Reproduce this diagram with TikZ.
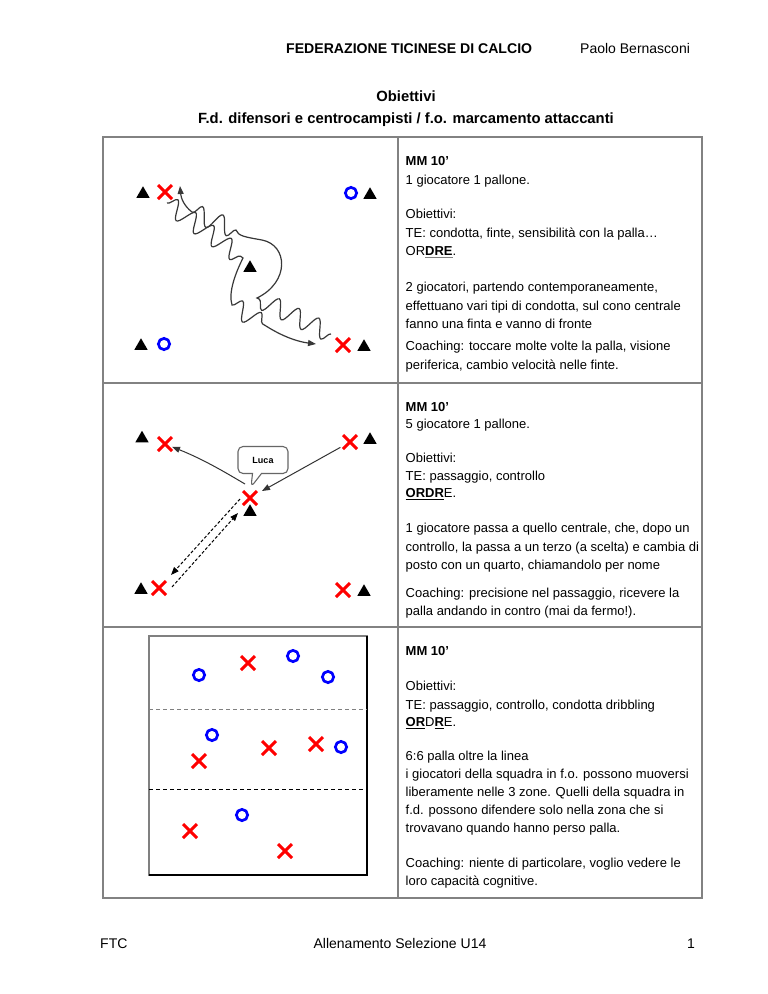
\documentclass[tikz,border=0pt]{standalone}
\usepackage{fontspec}
\setmainfont{Liberation Sans}
\usetikzlibrary{arrows.meta,shapes.geometric,shapes.misc,shapes.callouts,decorations.pathmorphing}
\newsavebox\ulbox
\newcommand\ulc[2]{\sbox\ulbox{#2}\rlap{\textcolor{#1}{\rule[-2.2pt]{\wd\ulbox}{1.2pt}}}\usebox\ulbox}
\definecolor{tblgray}{RGB}{130,130,130}
\definecolor{xred}{RGB}{255,0,0}
\definecolor{oblue}{RGB}{0,0,255}
\tikzset{
  tbl/.style={draw=tblgray, line width=1.2pt},
  redx/.style={cross out, draw=xred, line width=3pt, minimum size=11pt, inner sep=0pt},
  bluec/.style={circle, draw=oblue, line width=2.7pt, minimum size=11.3pt, inner sep=0pt},
  cone/.style={regular polygon, regular polygon sides=3, fill=black, minimum size=15.5pt, inner sep=0pt},
  txt/.style={anchor=base west, inner sep=0pt, font=\fontsize{13}{16}\selectfont},
  hdrb/.style={anchor=base west, inner sep=0pt, font=\bfseries\fontsize{14.1}{17}\selectfont},
  hdr/.style={anchor=base west, inner sep=0pt, font=\fontsize{14}{16}\selectfont},
  titl/.style={anchor=base, inner sep=0pt, font=\bfseries\fontsize{14.8}{17}\selectfont},
  foot/.style={inner sep=0pt, font=\fontsize{14}{16}\selectfont},
  wavy/.style={draw=black!78, line width=1.2pt, decoration={snake, segment length=22pt, amplitude=9pt}},
  arrtip/.style={-{Triangle[length=8pt,width=6pt]}},
  passarr/.style={draw=black!80, line width=1pt, -{Triangle[length=8pt,width=6pt]}},
  dasharr/.style={draw=black, line width=1pt, dash pattern=on 3pt off 2pt, -{Triangle[length=8pt,width=6pt]}},
  field/.style={draw=gray, line width=1.2pt},
  zone/.style={line width=1pt, dash pattern=on 4pt off 3pt}
}
\begin{document}
\begin{tikzpicture}[x=1pt,y=-1pt]
\useasboundingbox (0,0) rectangle (768,994);
\fill[white] (0,0) rectangle (768,994);

% header and title
\node[hdrb] (hdr) at (286,53) {FEDERAZIONE TICINESE DI CALCIO};
\node[hdr] (auth) at (580,53) {Paolo Bernasconi};
\node[titl] (ti1) at (406,101) {Obiettivi};
\node[titl] (ti2) at (406,123) {F.d. difensori e centrocampisti / f.o. marcamento attaccanti};

% table
\draw[tbl] (103,137) rectangle (702,898);
\draw[tbl] (103,383) -- (702,383);
\draw[tbl] (103,627) -- (702,627);
\draw[tbl] (398,137) -- (398,898);

% panel 1 text
\node[txt] (p1a) at (405.5,165.5) {\textbf{MM 10’}};
\node[txt] (p1b) at (405.5,184.5) {1 giocatore 1 pallone.};
\node[txt] (p1c) at (405.5,218.5) {Obiettivi:};
\node[txt] (p1d) at (405.5,237.5) {TE: condotta, finte, sensibilità con la palla…};
\node[txt] (p1e) at (405.5,255.5) {OR\ulc{gray}{\textbf{DRE}}.};
\node[txt] (p1f) at (405.5,291.5) {2 giocatori, partendo contemporaneamente,};
\node[txt] (p1g) at (405.5,310.5) {effettuano vari tipi di condotta, sul cono centrale};
\node[txt] (p1h) at (405.5,328.5) {fanno una finta e vanno di fronte};
\node[txt] (p1i) at (405.5,350.5) {Coaching: toccare molte volte la palla, visione};
\node[txt] (p1j) at (405.5,369.5) {periferica, cambio velocità nelle finte.};

% panel 2 text
\node[txt] (p2a) at (405.5,411.5) {\textbf{MM 10’}};
\node[txt] (p2b) at (405.5,428.5) {5 giocatore 1 pallone.};
\node[txt] (p2c) at (405.5,462.5) {Obiettivi:};
\node[txt] (p2d) at (405.5,480.5) {TE: passaggio, controllo};
\node[txt] (p2e) at (405.5,497.5) {\ulc{black}{\textbf{ORDR}}E.};
\node[txt] (p2f) at (405.5,532.5) {1 giocatore passa a quello centrale, che, dopo un};
\node[txt] (p2g) at (405.5,551.5) {controllo, la passa a un terzo (a scelta) e cambia di};
\node[txt] (p2h) at (405.5,569.5) {posto con un quarto, chiamandolo per nome};
\node[txt] (p2i) at (405.5,597.5) {Coaching: precisione nel passaggio, ricevere la};
\node[txt] (p2j) at (405.5,615.5) {palla andando in contro (mai da fermo!).};

% panel 3 text
\node[txt] (p3a) at (405.5,655.5) {\textbf{MM 10’}};
\node[txt] (p3b) at (405.5,690.5) {Obiettivi:};
\node[txt] (p3c) at (405.5,709.5) {TE: passaggio, controllo, condotta dribbling};
\node[txt] (p3d) at (405.5,726.5) {\ulc{black}{\textbf{OR}}D\ulc{black}{\textbf{R}}E.};
\node[txt] (p3e) at (405.5,760.5) {6:6 palla oltre la linea};
\node[txt] (p3f) at (405.5,778.5) {i giocatori della squadra in f.o. possono muoversi};
\node[txt] (p3g) at (405.5,796.5) {liberamente nelle 3 zone. Quelli della squadra in};
\node[txt] (p3h) at (405.5,814.5) {f.d. possono difendere solo nella zona che si};
\node[txt] (p3i) at (405.5,832.5) {trovavano quando hanno perso palla.};
\node[txt] (p3j) at (405.5,867.5) {Coaching: niente di particolare, voglio vedere le};
\node[txt] (p3k) at (405.5,885.5) {loro capacità cognitive.};

% panel 1 diagram
\node[cone] (c1) at (143,194) {};
\node[redx] (x1) at (165,192) {};
\node[bluec] (b1) at (351,193) {};
\node[cone] (c2) at (370,195) {};
\node[cone] (c3) at (250,268) {};
\node[cone] (c4) at (141,346) {};
\node[bluec] (b2) at (164,344) {};
\node[redx] (x2) at (343,345) {};
\node[cone] (c5) at (364,347) {};
\coordinate (w1s) at (167,203);
\coordinate (w1e) at (316,344);
\coordinate (w2s) at (331,334);
\coordinate (w2e) at (180,186);
\draw[wavy, arrtip] (w1s) decorate {-- (243,258)} .. controls (236,272) and (228,292) .. (232,305) decorate {-- (266,326)} .. controls (285,338) and (300,342) .. (w1e);
\draw[wavy, arrtip] (w2s) decorate {-- (257,298)} .. controls (290,282) and (288,245) .. (262,240) .. controls (245,237) and (238,236) .. (236,230) decorate {-- (192,212)} .. controls (184,206) and (181,198) .. (w2e);

% panel 2 diagram
\node[cone] (c6) at (142,438.5) {};
\node[redx] (x3) at (165,444) {};
\node[redx] (x4) at (350,442) {};
\node[cone] (c7) at (370,440) {};
\node[redx] (x5) at (250,498) {};
\node[cone] (c8) at (250,512) {};
\node[cone] (c9) at (141,590) {};
\node[redx] (x6) at (159,588) {};
\node[redx] (x7) at (343,590) {};
\node[cone] (c10) at (364,592) {};
\node[rectangle callout, rounded corners=5pt, draw=gray!80!black, line width=1.1pt, fill=white,
      minimum width=50pt, minimum height=27pt, callout absolute pointer={(251,487)},
      callout pointer width=9pt, font=\bfseries\fontsize{9}{10}\selectfont] (luca) at (263,460) {Luca};
\coordinate (s1) at (245,484);
\coordinate (e2) at (262,491);
\draw[passarr] (s1) .. controls (228,474) and (205,460) .. (x3);
\draw[passarr, shorten <=3pt] (x4) -- (e2);
\coordinate (d1s) at (240,499);
\coordinate (d1e) at (171,575);
\coordinate (d2s) at (172,587);
\coordinate (d2e) at (238,513);
\draw[dasharr] (d1s) -- (d1e);
\draw[dasharr] (d2s) -- (d2e);

% panel 3 diagram
\draw[field] (149,636) rectangle (367,875);
\draw[line width=1.2pt] (367,636) -- (367,875) -- (149,875);
\draw[zone, draw=gray] (149,709) -- (367,709);
\draw[zone, draw=black] (149,789) -- (367,789);
\node[bluec] (o1) at (199,675) {};
\node[bluec] (o2) at (293,656) {};
\node[bluec] (o3) at (328,677) {};
\node[bluec] (o4) at (212,735) {};
\node[bluec] (o5) at (341,747) {};
\node[bluec] (o6) at (242,815) {};
\node[redx] (r1) at (248,663) {};
\node[redx] (r2) at (269,748) {};
\node[redx] (r3) at (316,744) {};
\node[redx] (r4) at (199,761) {};
\node[redx] (r5) at (190,831) {};
\node[redx] (r6) at (285,851) {};

% footer
\node[foot, anchor=base west] (ftc) at (100,948) {FTC};
\node[foot, anchor=base] (fmid) at (400,948) {Allenamento Selezione U14};
\node[foot, anchor=base east] (fpg) at (695,948) {1};
\end{tikzpicture}
\end{document}
